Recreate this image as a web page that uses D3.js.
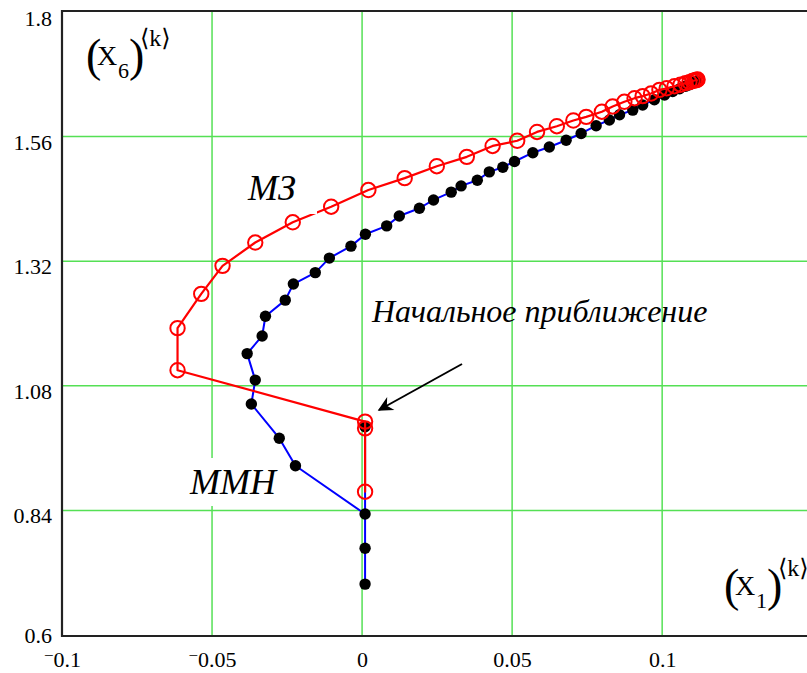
<!DOCTYPE html>
<html><head><meta charset="utf-8">
<script src="https://cdn.jsdelivr.net/npm/d3@7"></script>
<style>
html,body{margin:0;padding:0;background:#fff;}
svg{display:block;}
svg text{font-family:"Times New Roman","Liberation Serif","DejaVu Serif",serif;}
</style></head>
<body>
<svg id="c" width="807" height="673"></svg>
<script>
// ---- data ----
const xTicks = [-0.1, -0.05, 0, 0.05, 0.1];
const xTickLabels = ["−0.1", "−0.05", "0", "0.05", "0.1"];
const yTicks = [0.6, 0.84, 1.08, 1.32, 1.56, 1.8];
const yTickLabels = ["0.6", "0.84", "1.08", "1.32", "1.56", "1.8"];

// МЗ (red circles)
const mzX = [0.001, 0.001, 0.001, -0.0615, -0.0615, -0.0536, -0.0465, -0.0356, -0.0231, -0.0103, 0.0021, 0.0142, 0.0249, 0.0349, 0.0435, 0.0517, 0.0583, 0.0649, 0.0704, 0.0747, 0.0799, 0.0835, 0.0874, 0.0908, 0.0935, 0.0963, 0.0991, 0.1015, 0.1041, 0.1061, 0.1078, 0.1091, 0.1101, 0.1108, 0.1113, 0.1116, 0.1118];
const mzY = [0.998, 0.876, 1.011, 1.110, 1.191, 1.257, 1.311, 1.356, 1.395, 1.425, 1.457, 1.480, 1.503, 1.521, 1.542, 1.552, 1.569, 1.580, 1.591, 1.598, 1.608, 1.618, 1.627, 1.634, 1.638, 1.643, 1.650, 1.653, 1.657, 1.660, 1.663, 1.665, 1.667, 1.668, 1.669, 1.669, 1.670];

// ММН (black dots, blue line)
const mmnX = [0.001, 0.001, 0.001, 0.001, -0.0222, -0.0276, -0.0369, -0.0356, -0.0383, -0.0333, -0.0322, -0.0256, -0.0229, -0.0156, -0.0109, -0.0037, 0.0011, 0.0082, 0.0124, 0.0191, 0.0238, 0.0297, 0.0330, 0.0384, 0.0424, 0.0469, 0.0508, 0.0569, 0.0624, 0.0680, 0.0730, 0.0780, 0.0824, 0.0858, 0.0902, 0.0935, 0.0974, 0.1008, 0.1035, 0.1058, 0.1078, 0.1091, 0.1101, 0.1109, 0.1114];
const mmnY = [1.001, 0.698, 0.767, 0.833, 0.926, 0.979, 1.045, 1.091, 1.142, 1.176, 1.214, 1.245, 1.276, 1.298, 1.326, 1.349, 1.372, 1.388, 1.407, 1.422, 1.438, 1.453, 1.465, 1.476, 1.492, 1.501, 1.512, 1.529, 1.540, 1.553, 1.566, 1.581, 1.592, 1.602, 1.611, 1.621, 1.631, 1.640, 1.647, 1.652, 1.657, 1.660, 1.663, 1.665, 1.667];

// ---- drawing ----
const svg = d3.select("#c");
const x = d3.scaleLinear().domain([-0.1, 0.15]).range([62, 812.2]);
const y = d3.scaleLinear().domain([0.6, 1.8]).range([635, 12]);
const green = "#55e055";
const serif = "Times New Roman, Liberation Serif, serif";

// gridlines
svg.append("g").selectAll("line").data(xTicks.filter(v => v > -0.1))
  .join("line").attr("x1", d => x(d)).attr("x2", d => x(d))
  .attr("y1", y(1.8)).attr("y2", y(0.6))
  .attr("stroke", green).attr("stroke-width", 1.5);
svg.append("g").selectAll("line").data(yTicks.filter(v => v > 0.6 && v < 1.8))
  .join("line").attr("y1", d => y(d)).attr("y2", d => y(d))
  .attr("x1", x(-0.1)).attr("x2", 807)
  .attr("stroke", green).attr("stroke-width", 1.5);

const mmnPts = mmnX.map((v, i) => [v, mmnY[i]]);
const mzPts = mzX.map((v, i) => [v, mzY[i]]);
const line = d3.line().x(d => x(d[0])).y(d => y(d[1]));

// ММН series
svg.append("path").attr("d", line(mmnPts)).attr("fill", "none")
  .attr("stroke", "#0000ff").attr("stroke-width", 2).attr("stroke-linejoin", "round");
svg.append("g").selectAll("circle").data(mmnPts).join("circle")
  .attr("cx", d => x(d[0])).attr("cy", d => y(d[1])).attr("r", 5.7).attr("fill", "#000");

// МЗ series
svg.append("path").attr("d", line(mzPts)).attr("fill", "none")
  .attr("stroke", "#ff0000").attr("stroke-width", 2.2).attr("stroke-linejoin", "round");

// white boxes behind labels (they clip grid / series lines as in the reference)
svg.append("rect").attr("x", 184).attr("y", 458).attr("width", 96).attr("height", 48).attr("fill", "#fff");
svg.append("rect").attr("x", 238).attr("y", 166).attr("width", 79).attr("height", 48).attr("fill", "#fff");

svg.append("g").selectAll("circle").data(mzPts).join("circle")
  .attr("cx", d => x(d[0])).attr("cy", d => y(d[1])).attr("r", 7.2)
  .attr("fill", "none").attr("stroke", "#ff0000").attr("stroke-width", 2);

// frame
svg.append("line").attr("x1", x(-0.1)).attr("x2", 807).attr("y1", 11).attr("y2", 11).attr("stroke", "#222").attr("stroke-width", 2.2);
svg.append("line").attr("x1", x(-0.1)).attr("x2", 807).attr("y1", 636).attr("y2", 636).attr("stroke", "#222").attr("stroke-width", 2.2);
svg.append("line").attr("x1", 62).attr("x2", 62).attr("y1", 10).attr("y2", 637).attr("stroke", "#222").attr("stroke-width", 2.2);

// y tick labels
const yAxis = d3.axisLeft(y).tickValues(yTicks).tickSize(0).tickPadding(0)
  .tickFormat((d, i) => yTickLabels[i]);
const gy = svg.append("g").attr("transform", "translate(52,0)").call(yAxis)
  .attr("font-family", serif).attr("font-size", 22);
gy.select(".domain").remove();
gy.selectAll("text").attr("font-family", serif).attr("font-size", 22)
  .attr("fill", "#000").attr("dy", "0.34em")
  .attr("y", d => d === 0.6 ? 0 : (d === 1.8 ? 6 : 5));

// x tick labels
const xAxis = d3.axisBottom(x).tickValues(xTicks).tickSize(0).tickPadding(0)
  .tickFormat(() => "");
const gx = svg.append("g").attr("transform", "translate(0,636)").call(xAxis)
  .attr("font-family", serif).attr("font-size", 22);
gx.select(".domain").remove();
gx.selectAll(".tick text").each(function (d, i) {
  const t = d3.select(this).attr("font-family", serif).attr("font-size", 22)
    .attr("fill", "#000").attr("dy", null).attr("y", 31).attr("text-anchor", "middle");
  const lab = xTickLabels[i];
  t.text(null);
  if (lab.startsWith("−")) {
    t.append("tspan").text("−").attr("dy", -6).attr("font-size", 17);
    t.append("tspan").text(lab.slice(1)).attr("dy", 6);
  } else {
    t.append("tspan").text(lab);
  }
});

// axis titles: (X_n)^<k>
function axisTitle(x0, y0, sub) {
  const t = svg.append("text").attr("x", x0).attr("y", y0);
  t.append("tspan").attr("x", x0).attr("y", y0).attr("font-size", 46).text("(");
  t.append("tspan").attr("x", x0 + 11).attr("y", y0 - 6).attr("font-size", 28).text("X");
  t.append("tspan").attr("x", x0 + 32).attr("y", y0 + 7).attr("font-size", 22).text(sub);
  t.append("tspan").attr("x", x0 + 43).attr("y", y0).attr("font-size", 46).text(")");
  t.append("tspan").attr("x", x0 + 54).attr("y", y0 - 25).attr("font-size", 24).text("⟨k⟩");
}
axisTitle(86, 71, "6");
axisTitle(724, 601, "1");

// annotations
svg.append("text").attr("x", 248).attr("y", 200).attr("font-size", 36).attr("font-style", "italic").text("МЗ");
svg.append("text").attr("x", 190).attr("y", 494).attr("font-size", 36).attr("font-style", "italic").text("ММН");
svg.append("text").attr("x", 372).attr("y", 322).attr("font-size", 32).attr("font-style", "italic").text("Начальное приближение");

// arrow
svg.append("defs").append("marker").attr("id", "ah").attr("viewBox", "0 0 10 10")
  .attr("refX", 9).attr("refY", 5)
  .attr("markerUnits", "userSpaceOnUse").attr("orient", "auto")
  .attr("markerWidth", 20).attr("markerHeight", 15)
  .append("path").attr("d", "M0,0 L10,5 L0,10 L3,5 Z").attr("fill", "#000");
svg.append("line").attr("x1", 462).attr("y1", 364).attr("x2", 379).attr("y2", 410)
  .attr("stroke", "#000").attr("stroke-width", 2).attr("marker-end", "url(#ah)");
</script>
</body></html>
